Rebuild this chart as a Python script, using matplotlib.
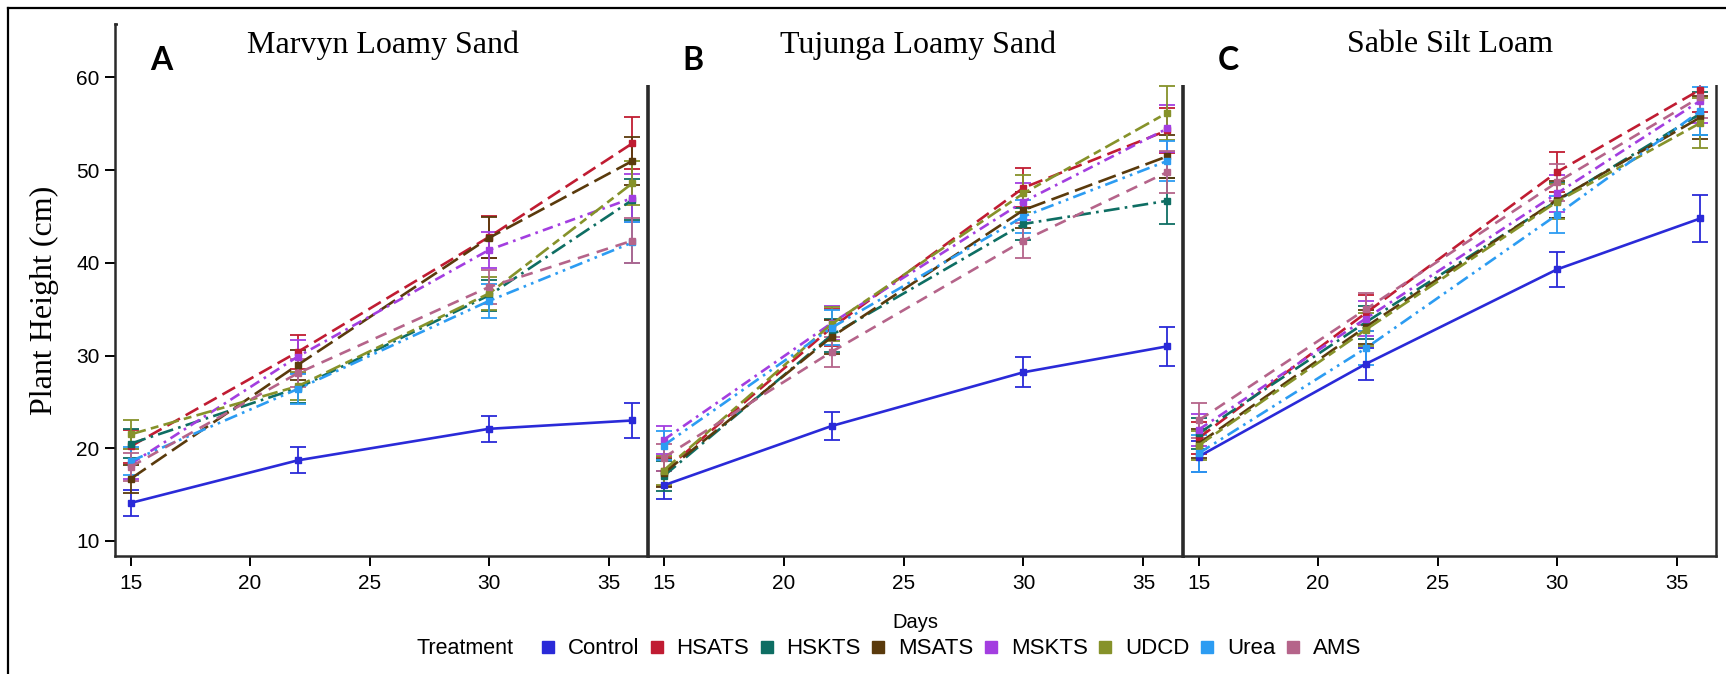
import matplotlib.pyplot as plt
from matplotlib.lines import Line2D
from matplotlib.patches import Rectangle

days = [15, 22, 30, 36]
treatments = ["Control", "HSATS", "HSKTS", "MSATS", "MSKTS", "UDCD", "Urea", "AMS"]
soils = ["Marvyn Loamy Sand", "Tujunga Loamy Sand", "Sable Silt Loam"]
panel_tags = ["A", "B", "C"]

# mean plant height (cm) per soil, treatment order as above
marvyn = [
    [14.1, 18.7, 22.1, 23.0],
    [20.2, 30.4, 42.8, 52.9],
    [20.5, 26.5, 36.5, 46.8],
    [16.7, 29.0, 42.7, 51.0],
    [18.3, 29.9, 41.4, 47.0],
    [21.5, 26.7, 36.7, 48.6],
    [18.6, 26.4, 35.9, 42.2],
    [18.0, 28.1, 37.4, 42.4],
]
marvyn_se = [
    [1.4, 1.4, 1.4, 1.9],
    [1.8, 1.8, 2.3, 2.8],
    [1.6, 1.6, 1.7, 2.2],
    [1.5, 1.6, 2.2, 2.6],
    [1.6, 1.8, 1.9, 2.6],
    [1.6, 1.5, 1.8, 2.4],
    [1.5, 1.6, 1.8, 2.2],
    [1.5, 1.5, 1.8, 2.4],
]
tujunga = [
    [16.0, 22.4, 28.2, 31.0],
    [17.5, 33.0, 48.1, 54.3],
    [17.0, 32.2, 44.2, 46.7],
    [17.3, 32.0, 45.7, 51.5],
    [20.9, 33.5, 46.6, 54.5],
    [17.6, 33.4, 47.5, 56.2],
    [20.3, 33.0, 45.0, 51.0],
    [19.0, 30.4, 42.4, 49.8],
]
tujunga_se = [
    [1.5, 1.5, 1.6, 2.1],
    [1.6, 2.0, 2.1, 2.4],
    [1.6, 1.8, 1.7, 2.5],
    [1.5, 1.8, 1.9, 2.3],
    [1.5, 1.8, 2.0, 2.5],
    [1.6, 1.8, 2.0, 2.9],
    [1.6, 1.9, 1.8, 2.2],
    [1.5, 1.6, 1.9, 2.3],
]
sable = [
    [19.1, 29.1, 39.3, 44.8],
    [21.1, 34.6, 49.8, 58.7],
    [21.6, 33.6, 46.7, 56.1],
    [20.5, 33.1, 46.8, 55.7],
    [22.0, 34.0, 47.5, 57.5],
    [20.3, 32.8, 46.6, 55.1],
    [19.45, 30.8, 45.2, 56.4],
    [23.0, 35.0, 48.7, 57.9],
]
sable_se = [
    [1.7, 1.7, 1.9, 2.5],
    [1.7, 1.9, 2.2, 2.4],
    [1.7, 1.8, 1.9, 2.3],
    [1.6, 1.8, 2.0, 2.3],
    [1.7, 1.9, 2.0, 2.4],
    [1.6, 1.8, 1.9, 2.7],
    [2.0, 1.8, 2.0, 2.6],
    [1.9, 1.7, 2.0, 2.3],
]

colors = ["#2a2ad8", "#c01c32", "#0e6e63", "#5a3a0c", "#a33ee0", "#86922a", "#2c9cf2", "#b5648a"]
styles = ["-", (0, (5.5, 2.5)), (0, (6, 2, 1, 2)), (0, (7, 2.5)),
          (0, (4, 2, 1, 2)), (0, (6, 2, 3, 2)), (0, (5, 2, 1, 2, 1, 2)), (0, (4.5, 3))]

W, H = 1726, 674
fig = plt.figure(figsize=(W / 100, H / 100), dpi=100)

lefts = [115, 648, 1183]
rights = [648, 1183, 1716]
top_px, bot_px = 24, 556

for k, (means, ses) in enumerate([(marvyn, marvyn_se), (tujunga, tujunga_se), (sable, sable_se)]):
    ax = fig.add_axes([lefts[k] / W, 1 - bot_px / H, (rights[k] - lefts[k]) / W, (bot_px - top_px) / H])
    for i, name in enumerate(treatments):
        ax.errorbar(days, means[i], yerr=ses[i], color=colors[i], linestyle=styles[i],
                    linewidth=1.9, marker="s", markersize=4, elinewidth=1.3,
                    capsize=5.5, capthick=1.3, label=name)
    ax.set_xlim(14.35, 36.65)
    ax.set_ylim(8.38, 65.77)
    ax.set_xticks([15, 20, 25, 30, 35])
    ax.tick_params(axis="x", direction="out", length=7, width=1.4, pad=6, labelsize=15)
    if k == 0:
        ax.set_yticks([10, 20, 30, 40, 50, 60])
        ax.tick_params(axis="y", direction="out", length=7, width=1.4, pad=4, labelsize=15)
    else:
        ax.set_yticks([])
    for s in ax.spines.values():
        s.set_linewidth(1.8)
        s.set_color("#2a2a2a")
    if k > 0:
        ax.spines["left"].set_linewidth(2.6)
    for lab in ax.get_xticklabels() + ax.get_yticklabels():
        lab.set_fontfamily("Liberation Sans")

# white boxes behind the soil titles hide the top of the panels
fig.add_artist(Rectangle((118 / W, 1 - 85 / H), (1719 - 118) / W, 75 / H,
                         transform=fig.transFigure, facecolor="white", edgecolor="none", zorder=5))

title_x = [383, 918, 1450]
tag_x = [161, 693, 1228]
for k in range(3):
    fig.text(title_x[k] / W, 1 - 45 / H, soils[k], ha="center", va="center",
             fontsize=23, family="Liberation Serif", zorder=6)
    fig.text(tag_x[k] / W, 1 - 60 / H, panel_tags[k], ha="center", va="center",
             fontsize=23, family="Lato", fontweight="bold", zorder=6)

fig.text(44 / W, 1 - 300 / H, "Plant Height (cm)", rotation=90, ha="center", va="center",
         fontsize=23, family="Liberation Serif")
fig.text(915 / W, 1 - 622 / H, "Days", ha="center", va="center", fontsize=14.5, family="Liberation Sans")
fig.text(416 / W, 1 - 649 / H, "Treatment", ha="left", va="center", fontsize=15.5, family="Liberation Sans")

handles = [Line2D([], [], linestyle="none", marker="s", markersize=9, color=c) for c in colors]
fig.legend(handles, treatments, loc="center left", bbox_to_anchor=(541 / W, 1 - 649 / H),
           ncol=8, frameon=False, handlelength=0.6, handletextpad=0.6, columnspacing=0.48,
           borderpad=0, borderaxespad=0, prop={"family": "Liberation Sans", "size": 16})

# outer frame (top and left edges)
fig.add_artist(Line2D([8 / W, 1], [1 - 8 / H, 1 - 8 / H], transform=fig.transFigure, color="black", linewidth=1.6))
fig.add_artist(Line2D([8 / W, 8 / W], [0, 1 - 8 / H], transform=fig.transFigure, color="black", linewidth=1.6))

fig.savefig("out.png", dpi=100)
